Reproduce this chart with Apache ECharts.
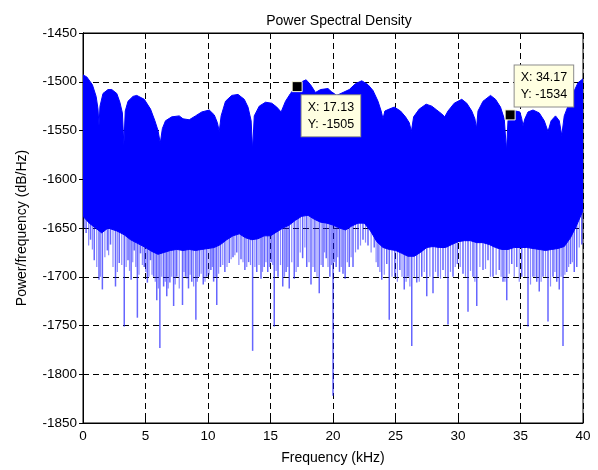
<!DOCTYPE html>
<html>
<head>
<meta charset="utf-8">
<script src="https://cdn.jsdelivr.net/npm/echarts@6/dist/echarts.min.js"></script>
<style>html,body{margin:0;padding:0;background:#fff;}#c{width:598px;height:470px;}</style>
</head>
<body>
<div id="c"></div>
<script>
// Upper envelope of the PSD (kHz, dB/Hz)
var upperX = [0,0.3,0.75,1.05,1.2,1.28,1.36,1.6,2.0,2.3,2.7,2.95,3.15,3.27,3.38,3.6,4.0,4.3,4.9,5.4,5.75,6.0,6.18,6.35,6.6,7.1,7.7,8.0,8.5,9.0,9.5,10.1,10.5,10.75,10.9,11.05,11.4,11.9,12.4,12.9,13.2,13.45,13.57,13.7,14.1,14.6,15.1,15.5,15.85,16.2,16.6,17.0,17.5,17.85,18.2,18.6,19.0,19.6,19.85,20.3,20.8,21.3,21.8,22.3,22.8,23.2,23.6,23.85,24.0,24.15,24.5,24.9,25.4,25.8,26.1,26.27,26.45,26.9,27.45,27.9,28.3,28.7,28.94,29.2,29.7,30.3,30.7,31.1,31.35,31.48,31.6,32.0,32.6,33.0,33.4,33.7,33.88,34.0,34.17,34.6,34.95,35.1,35.2,35.35,35.6,36.0,36.5,36.9,37.2,37.45,37.8,38.1,38.3,38.5,38.8,39.2,39.6,40];
var upperY = [-1493,-1495,-1503,-1515,-1528,-1545,-1525,-1512,-1508,-1508,-1512,-1521,-1532,-1565,-1530,-1520,-1515,-1514,-1518,-1528,-1540,-1550,-1563,-1548,-1540,-1536,-1535,-1538,-1539,-1535,-1531,-1529,-1534,-1542,-1551,-1535,-1520,-1514,-1513,-1518,-1526,-1540,-1570,-1535,-1525,-1521,-1522,-1526,-1531,-1520,-1512,-1505,-1500,-1498,-1503,-1511,-1508,-1507,-1510,-1514,-1511,-1508,-1502,-1499,-1503,-1509,-1520,-1530,-1538,-1530,-1528,-1526,-1530,-1536,-1542,-1551,-1536,-1528,-1523,-1525,-1529,-1533,-1536,-1530,-1522,-1518,-1522,-1530,-1538,-1548,-1530,-1520,-1514,-1518,-1526,-1538,-1571,-1540,-1534,-1530,-1531,-1538,-1545,-1538,-1531,-1529,-1532,-1540,-1551,-1540,-1535,-1540,-1555,-1535,-1525,-1512,-1501,-1497];

// Lower edge of the dense (solid) part of the spectrum
var lowerX = [0,0.5,1.0,1.5,2.0,2.7,3.3,3.8,4.4,5.0,5.5,6.0,6.5,7.0,7.5,8.0,8.5,9.0,9.5,10.0,10.5,11.0,11.5,12.0,12.5,13.0,13.5,14.0,14.5,15.0,15.5,16.0,16.5,17.0,17.5,18.0,18.5,19.0,19.5,20.0,20.5,21.0,21.5,22.0,22.5,23.0,23.5,24.0,24.5,25.0,25.5,26.0,26.5,27.0,27.5,28.0,28.5,29.0,29.5,30.0,30.5,31.0,31.5,32.0,32.5,33.0,33.5,34.0,34.5,35.0,35.5,36.0,36.5,37.0,37.5,38.0,38.5,39.0,39.5,40];
var lowerY = [-1638,-1645,-1650,-1655,-1650,-1653,-1657,-1662,-1666,-1670,-1674,-1677,-1675,-1673,-1672,-1673,-1672,-1673,-1672,-1671,-1670,-1667,-1662,-1658,-1656,-1660,-1662,-1661,-1658,-1658,-1654,-1650,-1647,-1642,-1638,-1637,-1641,-1644,-1645,-1647,-1650,-1652,-1648,-1645,-1645,-1653,-1664,-1670,-1672,-1673,-1676,-1679,-1679,-1675,-1670,-1669,-1670,-1670,-1667,-1664,-1663,-1663,-1665,-1665,-1667,-1670,-1672,-1672,-1670,-1670,-1670,-1671,-1672,-1673,-1672,-1671,-1669,-1660,-1647,-1632];

// Deep downward spikes below the dense part (frequency, minimum value)
var spikeX = [0.25,0.6,0.9,1.28,1.55,1.95,2.2,2.6,2.9,3.3,3.6,3.85,4.1,4.35,4.6,4.9,5.15,5.4,5.65,5.9,6.15,6.45,6.7,6.95,7.25,7.5,7.96,8.2,8.44,8.7,9.03,9.3,9.62,9.9,10.23,10.45,10.7,11.0,11.35,11.7,12.0,12.3,12.64,12.95,13.25,13.57,13.9,14.24,14.5,14.78,15.05,15.3,15.6,15.98,16.25,16.5,16.9,17.2,17.57,17.9,18.24,18.55,18.9,19.2,19.46,19.75,20.0,20.25,20.52,20.8,20.97,21.3,21.6,22.0,22.4,22.8,23.3,23.6,23.9,24.3,24.5,24.95,25.35,25.7,26.0,26.3,26.7,27.1,27.5,28.0,28.4,28.8,29.2,29.6,29.95,30.4,30.8,31.2,31.5,32.0,32.4,32.8,33.3,33.6,33.9,34.3,34.7,35.1,35.6,36.0,36.3,36.5,36.8,37.2,37.6,37.9,38.1,38.4,38.7,39.0,39.3,39.5,39.9];
var spikeY = [-1655,-1662,-1683,-1703,-1713,-1673,-1667,-1710,-1686,-1751,-1683,-1703,-1673,-1742,-1676,-1690,-1706,-1683,-1700,-1724,-1773,-1710,-1720,-1706,-1730,-1700,-1729,-1700,-1712,-1705,-1744,-1700,-1708,-1700,-1693,-1705,-1729,-1690,-1695,-1686,-1680,-1675,-1682,-1693,-1685,-1776,-1695,-1702,-1690,-1695,-1685,-1751,-1700,-1710,-1695,-1712,-1702,-1690,-1681,-1690,-1708,-1695,-1717,-1690,-1681,-1700,-1822,-1690,-1695,-1697,-1702,-1690,-1690,-1672,-1662,-1668,-1670,-1690,-1703,-1687,-1744,-1700,-1693,-1713,-1700,-1771,-1706,-1700,-1720,-1717,-1700,-1693,-1749,-1700,-1687,-1697,-1736,-1700,-1730,-1693,-1683,-1700,-1693,-1705,-1724,-1687,-1690,-1700,-1751,-1700,-1705,-1715,-1700,-1746,-1700,-1705,-1713,-1771,-1695,-1687,-1695,-1690,-1667];

// Shorter spikes forming the ragged fringe under the dense part
var fringeX = [0.1,0.45,0.75,1.1,1.4,1.75,2.05,2.4,2.75,3.1,3.45,3.72,3.98,4.22,4.48,4.75,5.02,5.28,5.52,5.78,6.03,6.3,6.58,6.82,7.1,7.38,7.7,8.08,8.32,8.57,8.85,9.15,9.45,9.76,10.08,10.35,10.58,10.85,11.18,11.52,11.85,12.15,12.47,12.8,13.1,13.4,13.75,14.08,14.36,14.64,14.92,15.18,15.45,15.8,16.12,16.38,16.7,17.05,17.38,17.75,18.08,18.4,18.72,19.05,19.32,19.6,19.88,20.12,20.38,20.66,21.15,21.45,21.8,22.2,22.6,23.05,23.45,23.75,24.1,24.72,25.15,25.52,25.85,26.15,26.5,26.9,27.3,27.75,28.2,28.6,29.0,29.4,29.78,30.18,30.6,31.0,31.35,31.75,32.2,32.6,33.05,33.45,33.75,34.1,34.5,34.9,35.35,35.8,36.15,36.65,37.0,37.4,37.75,38.25,38.55,38.85,39.15,39.7];
var fringeY = [-1650,-1668,-1672,-1690,-1700,-1680,-1678,-1690,-1695,-1688,-1690,-1694,-1685,-1690,-1698,-1688,-1695,-1700,-1698,-1705,-1712,-1700,-1705,-1712,-1700,-1708,-1712,-1695,-1702,-1698,-1710,-1705,-1697,-1705,-1698,-1690,-1700,-1697,-1688,-1690,-1682,-1678,-1688,-1685,-1690,-1688,-1690,-1688,-1695,-1685,-1690,-1688,-1694,-1688,-1700,-1690,-1685,-1695,-1675,-1670,-1685,-1690,-1700,-1688,-1675,-1690,-1688,-1685,-1680,-1690,-1685,-1680,-1675,-1668,-1665,-1675,-1685,-1695,-1698,-1700,-1705,-1700,-1705,-1710,-1700,-1705,-1695,-1700,-1695,-1702,-1700,-1695,-1690,-1690,-1700,-1694,-1705,-1690,-1692,-1700,-1698,-1700,-1705,-1697,-1700,-1705,-1700,-1708,-1700,-1705,-1700,-1710,-1695,-1700,-1698,-1690,-1685,-1670];

// Data cursors
var cursorX = [17.13, 34.17];
var cursorY = [-1505, -1534];

var xTicks = [0, 40, 5];
var yTicks = [-1850, -1450, 50];

var FONT = 'Arial, "Liberation Sans", sans-serif';
var BLUE = '#0000ff';

var chart = echarts.init(document.getElementById('c'), null, {renderer: 'canvas'});

function pairs(xs, ys) { return xs.map(function (x, i) { return [x, ys[i]]; }); }
function spikeRenderer(color, width) {
  return function (params, api) {
    var x = api.value(0), y = api.value(1);
    var p1 = api.coord([x, -1620]);
    var p2 = api.coord([x, y]);
    return {type: 'line', shape: {x1: p1[0], y1: p1[1], x2: p2[0], y2: p2[1]},
      style: {stroke: color, lineWidth: width}};
  };
}
var labelPos = [[10, 14], [10, -44]];

var option = {
  animation: false,
  backgroundColor: '#fff',
  title: {
    text: 'Power Spectral Density',
    left: 334, top: 9, textAlign: 'center',
    textStyle: {fontFamily: FONT, fontSize: 14, fontWeight: 'normal', color: '#000'}
  },
  grid: {left: 83, right: 15, top: 33, bottom: 42, show: true, borderColor: '#000', borderWidth: 1, backgroundColor: 'transparent'},
  xAxis: [{
    type: 'value', min: xTicks[0], max: xTicks[1], interval: xTicks[2],
    name: 'Frequency (kHz)', nameLocation: 'middle', nameGap: 28,
    nameTextStyle: {fontFamily: FONT, fontSize: 14, color: '#000'},
    axisLine: {show: true, lineStyle: {color: '#000'}},
    axisTick: {show: true, inside: true, length: 4, lineStyle: {color: '#000'}},
    axisLabel: {fontFamily: FONT, fontSize: 13.5, color: '#000', margin: 6, formatter: function (v) { return String(v); }},
    splitLine: {show: true, lineStyle: {color: '#000', type: [6, 4], width: 1}}
  }, {
    type: 'value', position: 'top', min: xTicks[0], max: xTicks[1], interval: xTicks[2],
    axisLine: {show: true, lineStyle: {color: '#000'}},
    axisTick: {show: true, inside: true, length: 4, lineStyle: {color: '#000'}},
    axisLabel: {show: false}, splitLine: {show: false}
  }],
  yAxis: [{
    type: 'value', min: yTicks[0], max: yTicks[1], interval: yTicks[2],
    name: 'Power/frequency (dB/Hz)', nameLocation: 'middle', nameGap: 54,
    nameTextStyle: {fontFamily: FONT, fontSize: 14, color: '#000'},
    axisLine: {show: true, lineStyle: {color: '#000'}},
    axisTick: {show: true, inside: true, length: 4, lineStyle: {color: '#000'}},
    axisLabel: {fontFamily: FONT, fontSize: 13.5, color: '#000', margin: 6, formatter: function (v) { return String(v); }},
    splitLine: {show: true, lineStyle: {color: '#000', type: [6, 4], width: 1}}
  }, {
    type: 'value', position: 'right', min: yTicks[0], max: yTicks[1], interval: yTicks[2],
    axisLine: {show: true, lineStyle: {color: '#000'}},
    axisTick: {show: true, inside: true, length: 4, lineStyle: {color: '#000'}},
    axisLabel: {show: false}, splitLine: {show: false}
  }],
  series: [{
    type: 'custom', name: 'fringe', xAxisIndex: 0, yAxisIndex: 0,
    data: pairs(fringeX, fringeY), z: 2, clip: true,
    renderItem: spikeRenderer('rgba(40,40,255,0.55)', 1.2)
  }, {
    type: 'custom', name: 'spikes', xAxisIndex: 0, yAxisIndex: 0,
    data: pairs(spikeX, spikeY), z: 2, clip: true,
    renderItem: spikeRenderer('rgba(20,20,255,0.65)', 1.5)
  }, {
    type: 'custom', name: 'psd', xAxisIndex: 0, yAxisIndex: 0,
    data: [[0, upperY[0]]], z: 3, clip: true,
    renderItem: function (params, api) {
      var pts = [];
      for (var i = 0; i < upperX.length; i++) pts.push(api.coord([upperX[i], upperY[i]]));
      for (var j = lowerX.length - 1; j >= 0; j--) pts.push(api.coord([lowerX[j], lowerY[j]]));
      return {type: 'polygon', shape: {points: pts}, style: {fill: BLUE, stroke: BLUE, lineWidth: 1}};
    }
  }, {
    type: 'scatter', name: 'cursor', xAxisIndex: 0, yAxisIndex: 0,
    z: 5, symbol: 'rect', symbolSize: 10,
    itemStyle: {color: '#000', borderColor: '#ffffe1', borderWidth: 1, opacity: 1},
    data: pairs(cursorX, cursorY).map(function (d, i) {
      return {value: d, label: {position: labelPos[i]}};
    }),
    label: {
      show: true,
      formatter: function (p) { return 'X: ' + p.value[0].toFixed(2) + '\nY: ' + p.value[1]; },
      fontFamily: FONT, fontSize: 12.5, color: '#000', lineHeight: 17, opacity: 1,
      backgroundColor: '#ffffe1', borderColor: '#8c8c8c', borderWidth: 1,
      padding: [4, 6, 3, 6], align: 'left', verticalAlign: 'top'
    }
  }]
};
chart.setOption(option);
</script>
</body>
</html>
